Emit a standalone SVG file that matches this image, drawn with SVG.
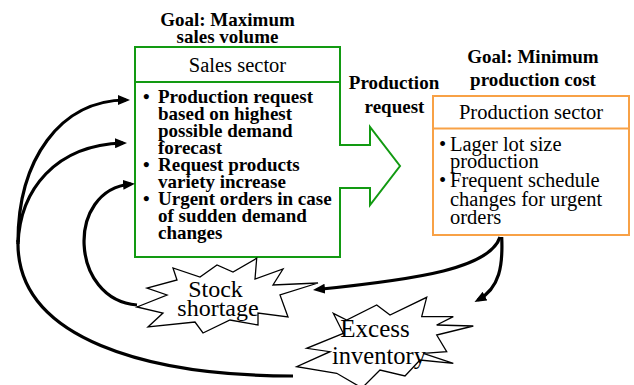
<svg xmlns="http://www.w3.org/2000/svg" width="634" height="385" viewBox="0 0 634 385">
  <style>
    text { font-family: "Liberation Serif", Tinos, "Times New Roman", "DejaVu Serif", serif; fill: #000; }
    .bold { font-weight: bold; font-size: 19px; }
    .reg { font-size: 20.5px; }
    .big { font-size: 24px; }
    .mid { text-anchor: middle; }
    .green { fill: #fff; stroke: #129a12; stroke-width: 2; }
    .orange { fill: #fff; stroke: #f8a146; stroke-width: 2; }
    .burst { fill: #fff; stroke: #000; stroke-width: 1.3; stroke-linejoin: miter; }
    .link { fill: none; stroke: #000; stroke-width: 3.2; stroke-linecap: butt; }
  </style>
  <defs>
    <marker id="head" viewBox="0 0 12 10" refX="8" refY="5" markerWidth="12" markerHeight="10" markerUnits="userSpaceOnUse" orient="auto">
      <path d="M0,0 L12,5 L0,10 z" fill="#000"/>
    </marker>
  </defs>

  <!-- Sales sector: header box plus body with the production-request arrow -->
  <g id="sales-sector">
    <text class="bold mid" x="227.5" y="26">Goal: Maximum</text>
    <text class="bold mid" x="227.5" y="43">sales volume</text>
    <rect class="green" x="135" y="47" width="205" height="35"/>
    <path class="green" d="M135,82 H340 V145 H370 V127 L400,166 L370,205 V188 H340 V257 H135 Z"/>
    <text class="reg mid" x="237.5" y="72">Sales sector</text>
    <g class="bold">
      <text x="143" y="102.5">•</text>
      <text x="158" y="102.5">Production request</text>
      <text x="158" y="119.6">based on highest</text>
      <text x="158" y="136.7">possible demand</text>
      <text x="158" y="153.8">forecast</text>
      <text x="143" y="170.9">•</text>
      <text x="158" y="170.9">Request products</text>
      <text x="158" y="188">variety increase</text>
      <text x="143" y="205.1">•</text>
      <text x="158" y="205.1">Urgent orders in case</text>
      <text x="158" y="222.2">of sudden demand</text>
      <text x="158" y="239.3">changes</text>
    </g>
  </g>

  <g id="production-request-label">
    <text class="bold mid" x="394" y="89.3">Production</text>
    <text class="bold mid" x="394.5" y="113">request</text>
  </g>

  <!-- Production sector -->
  <g id="production-sector">
    <text class="bold mid" x="533" y="63.3">Goal: Minimum</text>
    <text class="bold mid" x="533" y="86">production cost</text>
    <rect class="orange" x="433" y="96" width="196" height="139"/>
    <line x1="433" y1="128.5" x2="629" y2="128.5" stroke="#f8a146" stroke-width="2"/>
    <text class="reg mid" x="531" y="118.5">Production sector</text>
    <g class="reg">
      <text x="439" y="151">•</text>
      <text x="450" y="151">Lager lot size</text>
      <text x="450" y="168">production</text>
      <text x="439" y="187">•</text>
      <text x="450" y="187">Frequent schedule</text>
      <text x="450" y="205.5">changes for urgent</text>
      <text x="450" y="224">orders</text>
    </g>
  </g>

  <!-- Stock shortage burst -->
  <g id="stock-shortage">
    <polygon class="burst" points="256.7,258.3 255,279 283,269 273,285 318,283 280,295 288,317 258,313 258,325 230,320 203,333 195,322 148,327 163,313 137,307 167,295 147,288 177,280 173,268 200,277 217,265 233,272"/>
    <text class="big mid" x="215.5" y="296.5">Stock</text>
    <text class="big mid" x="218" y="316">shortage</text>
  </g>

  <!-- Excess inventory burst -->
  <g id="excess-inventory">
    <polygon class="burst" points="333.3,313.3 346.7,320 376.7,305 390,315 426.7,297.3 421.7,316.7 453.3,316.7 436.7,325 473.3,326 436.7,335 446.7,351.7 423.3,353.3 453.3,363.3 420,360 405,376 380,370 362,388 336.7,373.3 296.7,366.7 330,351.7 306.7,348.3 343.3,333.3"/>
    <text class="mid" font-size="25" x="375" y="336.5">Excess</text>
    <text class="mid" font-size="24.5" x="379" y="364">inventory</text>
  </g>

  <!-- Connectors -->
  <g id="connectors">
    <!-- excess inventory feeds back to the sales sector -->
    <path class="link" d="M293,376 C150,376 15,340 18,240"/>
    <path class="link" marker-end="url(#head)" d="M18,242 C18,160 60,100 126,100"/>
    <path class="link" marker-end="url(#head)" d="M18,244 C20,190 55,145 123,143"/>
    <!-- stock shortage feeds back to the sales sector -->
    <path class="link" marker-end="url(#head)" d="M137,305 C70,300 65,190 131,184"/>
    <!-- production sector causes both problems -->
    <path class="link" marker-end="url(#head)" d="M500,237 C490,268 420,279 317,289.5"/>
    <path class="link" marker-end="url(#head)" d="M501.7,237 C503,265 500,288 478,300"/>
  </g>
</svg>
